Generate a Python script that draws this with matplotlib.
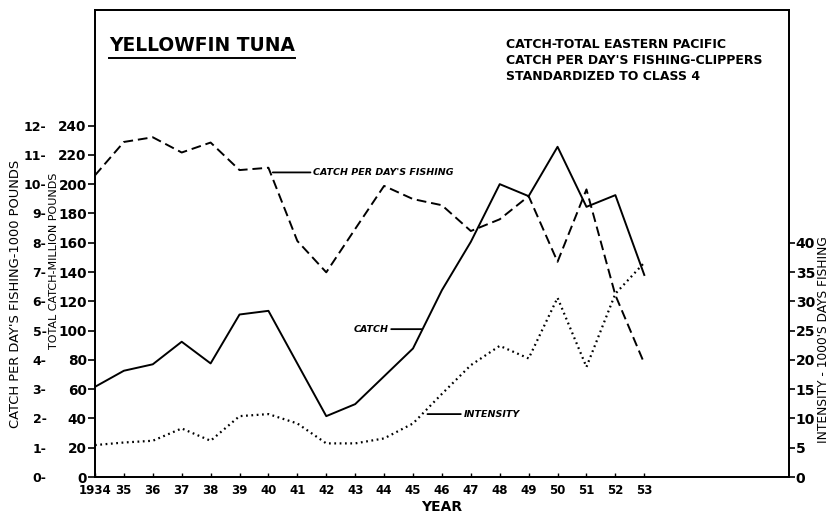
"""
Yellowfin tuna: total catch, catch per day's fishing and fishing intensity, 1934-1953.
"""
import matplotlib
matplotlib.use('Agg')
import matplotlib.pyplot as plt
from matplotlib.ticker import FixedLocator, FuncFormatter

plt.rcParams['font.family'] = ['DejaVu Sans']

years = list(range(1934, 1954))
year_labels = ['1934'] + [str(y)[2:] for y in years[1:]]

# total catch, million pounds
catch = [61.6, 72.6, 77.0, 92.4, 77.6, 111.0, 113.5, 77.5, 41.6, 49.8,
         68.8, 87.8, 127.6, 160.6, 200.0, 191.8, 225.5, 184.5, 192.5, 138.0]
# catch per day's fishing, 1000 pounds
catch_per_day = [10.3, 11.44, 11.6, 11.08, 11.42, 10.48, 10.56, 8.06, 6.99, 8.47,
                 9.94, 9.49, 9.28, 8.4, 8.8, 9.59, 7.35, 9.82, 6.21, 3.88]
# intensity, 1000's days fishing
intensity = [5.46, 5.9, 6.2, 8.3, 6.2, 10.4, 10.75, 9.15, 5.75, 5.75,
             6.6, 9.15, 14.2, 19.1, 22.4, 20.25, 30.6, 18.8, 31.3, 36.6]

catch_ticks = list(range(0, 241, 20))
cpd_ticks = list(range(0, 13))
intensity_ticks = list(range(0, 41, 5))

fig = plt.figure(figsize=(8.33, 5.18), dpi=100)
ax = fig.add_axes([0.114, 0.079, 0.833, 0.902])

lw = 1.4
ax.plot(years, catch, color='black', lw=lw)
# catch per day shares the left scale: 1 (1000 lb) = 20 (million lb)
ax.plot(years, [v * 20 for v in catch_per_day], color='black', lw=lw,
        linestyle=(0, (5, 2.5)))

ax.set_xlim(1934, 1958)
ax.set_ylim(0, 319)
ax.set_yticks(catch_ticks)
ax.set_yticklabels([str(t) for t in catch_ticks], fontsize=9.8, fontweight='bold')
ax.tick_params(axis='y', direction='out', length=5, width=1.2, pad=1)
ax.set_xticks(years)
ax.set_xticklabels(year_labels, fontsize=8.5, fontweight='bold')
ax.tick_params(axis='x', direction='in', length=3, width=1.0, pad=5)
for s in ax.spines.values():
    s.set_linewidth(1.3)

ax.set_xlabel('YEAR', fontsize=10, fontweight='bold', labelpad=2)

# intensity on its own right-hand scale
ax2 = ax.twinx()
ax2.plot(years, intensity, color='black', lw=1.6, linestyle=(0, (0.8, 1.6)))
ax2.set_ylim(0, 319 / 4)
ax2.set_yticks(intensity_ticks)
ax2.set_yticklabels([str(t) for t in intensity_ticks], fontsize=10, fontweight='bold')
ax2.tick_params(axis='y', direction='out', length=4, width=1.2, pad=1)
for s in ax2.spines.values():
    s.set_linewidth(1.3)

# outer left scale for catch per day
sec = ax.secondary_yaxis(-0.070, functions=(lambda v: v / 20, lambda v: v * 20))
sec.yaxis.set_major_locator(FixedLocator(cpd_ticks))
sec.yaxis.set_major_formatter(FuncFormatter(lambda v, p: f'{int(v)}-'))
sec.tick_params(axis='y', length=0, pad=0, labelsize=9)
for lbl in sec.get_yticklabels():
    lbl.set_fontweight('bold')
sec.spines['left'].set_visible(False)

fig.text(0.019, 0.432, "CATCH PER DAY'S FISHING-1000 POUNDS", rotation=90,
         ha='center', va='center', fontsize=9.4)
fig.text(0.065, 0.496, 'TOTAL CATCH-MILLION POUNDS', rotation=90,
         ha='center', va='center', fontsize=8)
fig.text(0.988, 0.344, "INTENSITY - 1000'S DAYS FISHING", rotation=90,
         ha='center', va='center', fontsize=8.8)

# headings
title = fig.text(0.131, 0.912, 'YELLOWFIN TUNA', fontsize=13.4, fontweight='bold',
                 ha='left', va='center')
fig.canvas.draw()
bb = title.get_window_extent(fig.canvas.get_renderer()).transformed(fig.transFigure.inverted())
fig.add_artist(plt.Line2D([bb.x0, bb.x1], [bb.y0 - 0.006, bb.y0 - 0.006],
                          color='black', lw=1.4, transform=fig.transFigure))

fig.text(0.607, 0.927, 'CATCH-TOTAL EASTERN PACIFIC\n'
         "CATCH PER DAY'S FISHING-CLIPPERS\n"
         'STANDARDIZED TO CLASS 4',
         fontsize=9, fontweight='bold', ha='left', va='top', linespacing=1.3)

# series labels with leader lines
lead = dict(arrowstyle='-', color='black', lw=1.3, shrinkA=0, shrinkB=0)
lab = dict(fontsize=6.8, fontweight='bold', style='italic', va='center')
ax.annotate("CATCH PER DAY'S FISHING", xy=(1940.15, 208), xytext=(1941.55, 208),
            ha='left', arrowprops=lead, **lab)
ax.annotate('CATCH', xy=(1945.3, 101), xytext=(1944.15, 101),
            ha='right', arrowprops=lead, **lab)
ax.annotate('INTENSITY', xy=(1945.5, 43), xytext=(1946.75, 43),
            ha='left', arrowprops=lead, **lab)

fig.savefig('out.png', dpi=100)
